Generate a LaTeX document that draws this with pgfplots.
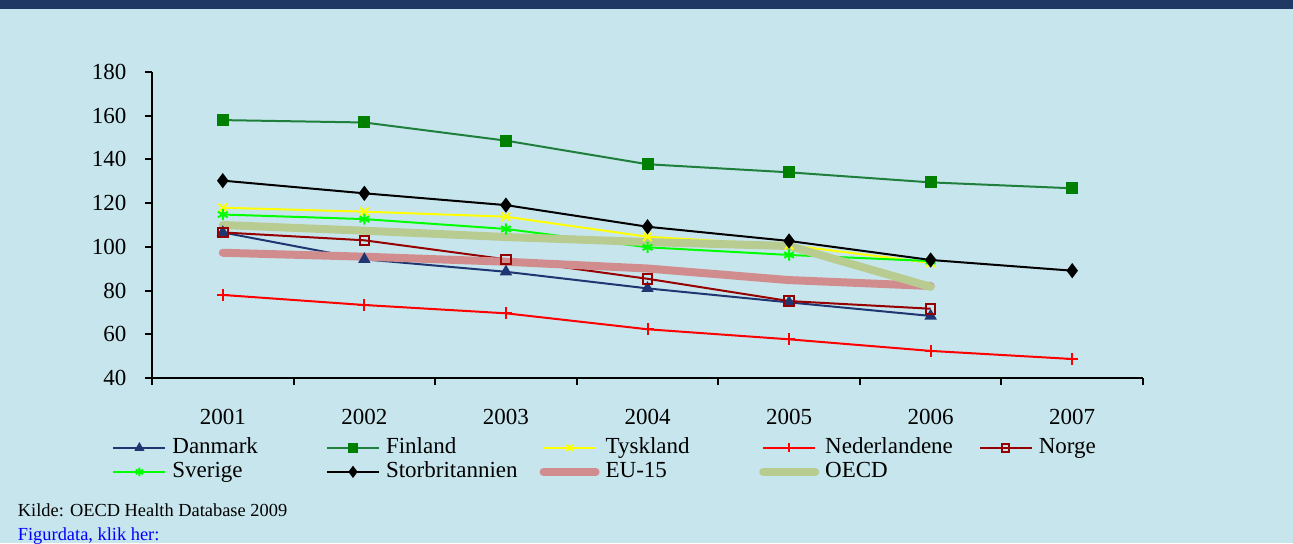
\documentclass[border=0pt]{standalone}
\usepackage{pgfplots}
\pgfplotsset{compat=1.18}
\usepackage{fontspec}
\setmainfont{Liberation Serif}
\definecolor{bg}{RGB}{199,229,236}
\definecolor{band}{RGB}{31,56,100}
\definecolor{dk}{RGB}{30,55,115}
\definecolor{fiL}{RGB}{30,128,60}
\definecolor{fiM}{RGB}{0,128,0}
\definecolor{ty}{RGB}{255,255,0}
\definecolor{nl}{RGB}{255,0,0}
\definecolor{no}{RGB}{150,0,0}
\definecolor{se}{RGB}{0,255,0}
\definecolor{eu}{RGB}{209,141,141}
\definecolor{oecd}{RGB}{184,204,146}
\begin{document}
\begin{tikzpicture}[x=0.5pt,y=0.5pt]
\useasboundingbox (0,0) rectangle (1293,543);
\fill[bg] (0,0) rectangle (1293,543);
\fill[band] (0,534) rectangle (1293,543);
\begin{axis}[
  at={(76pt,82.5pt)}, anchor=south west,
  scale only axis, width=495.5pt, height=153pt,
  xmin=-0.5, xmax=6.5, ymin=40, ymax=180,
  axis x line=bottom, axis y line=left,
  axis line style={-, black, line width=1pt},
  tick style={black, line width=1pt},
  tick align=outside,
  major tick length=3.3pt,
  ytick={40,60,...,180},
  xtick={-0.5,0.5,...,6.5}, xticklabels={},
  extra x ticks={0,1,2,3,4,5,6},
  extra x tick labels={2001,2002,2003,2004,2005,2006,2007},
  extra x tick style={major tick length=0pt, tick label style={yshift=-12.3pt}},
  ticklabel style={font=\fontsize{11.5}{13}\selectfont},
  /pgf/number format/assume math mode=true,
  yticklabel style={xshift=-6pt},
  clip=false,
  legend columns=5,
  legend cell align=left,
  legend style={draw=none, fill=none, at={(0,0)}, anchor=north west,
    xshift=-20pt, yshift=-29.5pt, inner sep=0pt, row sep=1.5pt,
    font=\fontsize{11.5}{13}\selectfont,
    nodes={text width=73.8pt, inner xsep=3pt, inner ysep=0pt, text height=8pt, text depth=2.5pt}},
  legend image code/.code={\draw[mark repeat=2,mark phase=2,#1, every mark/.append style={scale=0.75}] plot coordinates {(0pt,0pt)(13pt,0pt)(26pt,0pt)};},
  every axis plot/.append style={line width=1pt},
]
\addplot[dk, mark=triangle*, mark size=2.6pt, mark options={solid}] coordinates {(0,106.6)(1,94.3)(2,88.6)(3,81.0)(4,74.6)(5,68.4)};
\addlegendentry{Danmark}
\addplot[fiL, mark=square*, mark size=2.5pt, mark options={fiM}] coordinates {(0,158.0)(1,156.9)(2,148.6)(3,137.8)(4,134.1)(5,129.5)(6,126.8)};
\addlegendentry{Finland}
\addplot[ty, mark=x, mark size=3pt] coordinates {(0,117.9)(1,116.1)(2,113.8)(3,104.6)(4,100.8)(5,92.7)};
\addlegendentry{Tyskland}
\addplot[nl, mark=+, mark size=3pt] coordinates {(0,78.0)(1,73.4)(2,69.6)(3,62.3)(4,57.7)(5,52.4)(6,48.7)};
\addlegendentry{Nederlandene}
\addplot[no, mark=square, mark size=2.4pt] coordinates {(0,106.6)(1,103.0)(2,94.3)(3,85.4)(4,75.2)(5,71.7)};
\addlegendentry{Norge}
\addplot[se, mark=asterisk, mark size=2.8pt] coordinates {(0,114.8)(1,112.7)(2,108.2)(3,99.8)(4,96.3)(5,93.5)};
\addlegendentry{Sverige}
\addplot[black, mark=diamond*, mark size=3pt] coordinates {(0,130.3)(1,124.5)(2,119.1)(3,109.2)(4,102.7)(5,94.0)(6,89.1)};
\addlegendentry{Storbritannien}
\addplot[eu, line width=4pt, line cap=round, line join=round] coordinates {(0,97.3)(1,95.5)(2,93.2)(3,90.1)(4,84.8)(5,82.1)};
\addlegendentry{EU-15}
\addplot[oecd, line width=4pt, line cap=round, line join=round] coordinates {(0,110.0)(1,107.4)(2,104.5)(3,102.2)(4,100.4)(5,81.7)};
\addlegendentry{OECD}
\end{axis}
\node[anchor=base west, inner sep=0pt, font=\fontsize{9.2}{11}\selectfont] at (17.5,26.3) {Kilde: OECD Health Database 2009};
\node[anchor=base west, inner sep=0pt, text=blue, font=\fontsize{9.2}{11}\selectfont] at (17.5,3) {Figurdata, klik her:};
\end{tikzpicture}
\end{document}
